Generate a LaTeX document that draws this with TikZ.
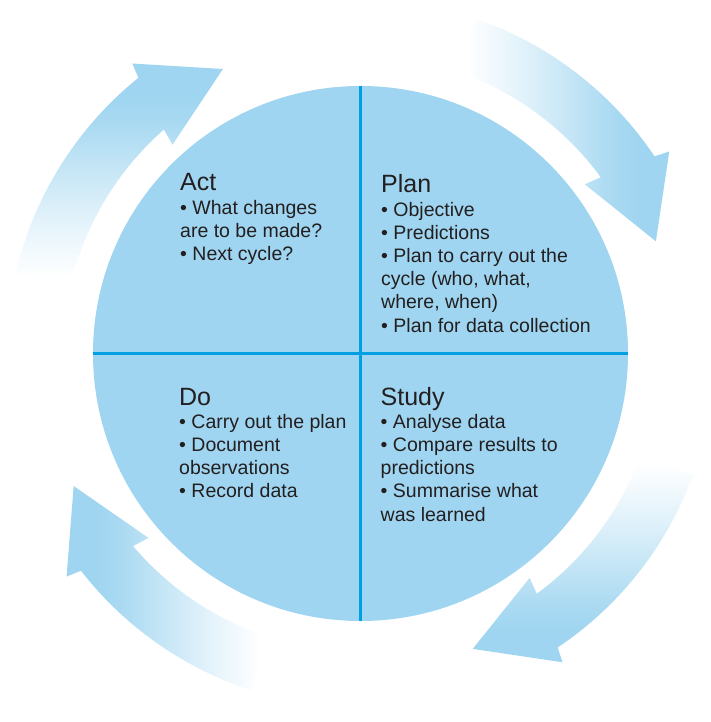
\documentclass[tikz,border=0pt]{standalone}
\usepackage{fontspec}
\setmainfont{Liberation Sans}
\definecolor{circfill}{RGB}{159,213,240}
\definecolor{divblue}{RGB}{0,158,226}
\definecolor{arrowblue}{RGB}{159,213,240}
\definecolor{inktext}{RGB}{35,31,32}
\colorlet{arrowpale}{arrowblue!30!white}
\colorlet{arrowhalf}{arrowblue!62!white}
\colorlet{arrowdeep}{arrowblue!90!white}
\pgfdeclarehorizontalshading{arrowfade}{100bp}{color(0bp)=(white); color(27bp)=(white); color(40bp)=(arrowpale); color(52bp)=(arrowhalf); color(62bp)=(arrowdeep); color(68bp)=(arrowblue); color(100bp)=(arrowblue)}
\newcommand{\quadtitle}{\fontsize{25}{23.2}\selectfont}
% tail angle, head base angle, shading angle
\newcommand{\cyclearrow}[3]{%
  \shade[shading=arrowfade, shading angle=#3]
    (#1:354) arc[start angle=#1, end angle={#2-3.15}, radius=354]
    -- ({#2-3.8}:369) -- ({#2-16.2}:316) -- (#2:281) -- ({#2-0.73}:298)
    arc[start angle={#2-0.73}, end angle=#1, radius=298] -- cycle;}
\tikzset{
  quadtext/.style={anchor=base west, inner sep=0pt, align=left, text=inktext,
    font=\fontsize{19.5}{23.2}\selectfont},
  divline/.style={draw=divblue, line width=2.4pt}
}

\begin{document}
\begin{tikzpicture}[x=1pt,y=1pt]
  \useasboundingbox (-360.5,-368.5) rectangle (349.5,353.5);

  % arrows round the cycle
  \cyclearrow{71}{37}{0}
  \cyclearrow{167}{132}{90}
  \cyclearrow{252}{221}{180}
  \cyclearrow{340}{307}{270}

  % the disc and its quarters
  \coordinate (c) at (0,0);
  \fill[circfill] (c) circle (267.5);
  \draw[divline] (0,267.5) -- (0,-267.5);
  \draw[divline] (-267.5,0) -- (267.5,0);

  % Text Node (placed at the baseline of the last line)
  \node[quadtext] (act) at (-180.5,92.9) {{\quadtitle Act}\\• What changes\\are to be made?\\• Next cycle?};
  \node[quadtext] (plan) at (20.5,21.3) {{\quadtitle Plan}\\• Objective\\• Predictions\\• Plan to carry out the\\cycle (who, what,\\where, when)\\• Plan for data collection};
  \node[quadtext] (do) at (-181.5,-144.3) {{\quadtitle Do}\\• Carry out the plan\\• Document\\observations\\• Record data};
  \node[quadtext] (study) at (20,-167.5) {{\quadtitle Study}\\• Analyse data\\• Compare results to\\predictions\\• Summarise what\\was learned};
\end{tikzpicture}
\end{document}
